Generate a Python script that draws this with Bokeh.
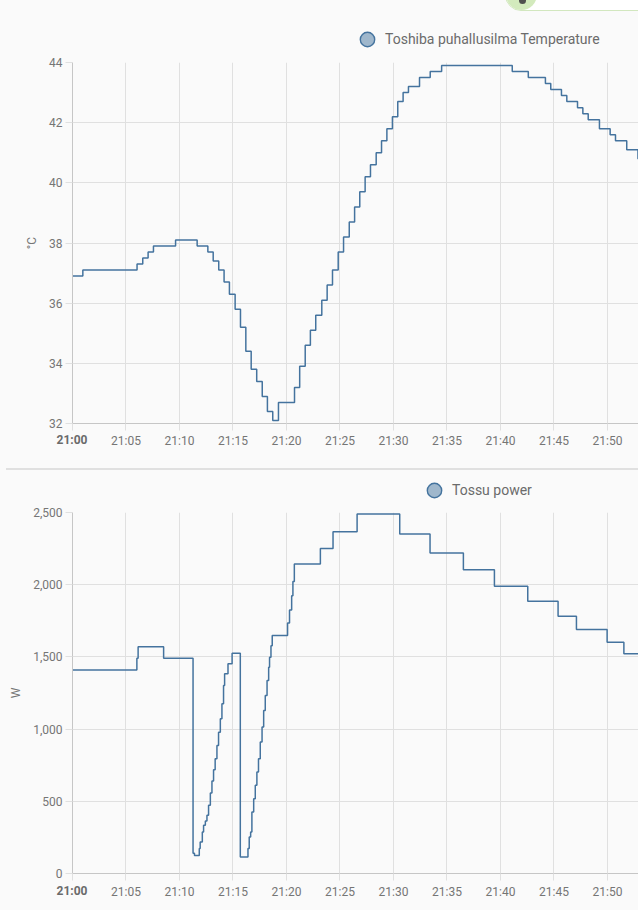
import pandas as pd
from bokeh.plotting import figure
from bokeh.models import (Range1d, FixedTicker, NumeralTickFormatter, Legend,
                          LegendItem, Div, ColumnDataSource)
from bokeh.layouts import column
from bokeh.embed import file_html
from bokeh.resources import INLINE

DAY = "2024-01-01 "

# ---------------- data ----------------
temp_name = "Toshiba puhallusilma Temperature"
temp_unit = "°C"
temp_times = ["21:00:00", "21:00:58", "21:06:02", "21:06:34", "21:07:04", "21:07:34",
              "21:09:38", "21:11:39", "21:12:39", "21:13:09", "21:13:40", "21:14:10",
              "21:14:40", "21:15:12", "21:15:42", "21:16:12", "21:16:42", "21:17:13",
              "21:17:44", "21:18:13", "21:18:43", "21:19:15", "21:20:45", "21:21:14",
              "21:21:45", "21:22:14", "21:22:44", "21:23:18", "21:23:48", "21:24:18",
              "21:24:50", "21:25:20", "21:25:52", "21:26:22", "21:26:51", "21:27:21",
              "21:27:51", "21:28:23", "21:28:53", "21:29:23", "21:29:54", "21:30:24",
              "21:30:54", "21:31:24", "21:32:26", "21:33:26", "21:34:30", "21:41:06",
              "21:42:36", "21:44:12", "21:44:42", "21:45:42", "21:46:12", "21:47:12",
              "21:47:42", "21:48:12", "21:49:15", "21:50:15", "21:50:45", "21:51:48",
              "21:52:51", "21:53:00"]
temp_values = [36.9, 37.1, 37.3, 37.5, 37.7, 37.9,
               38.1, 37.9, 37.7, 37.4, 37.1, 36.7,
               36.3, 35.8, 35.2, 34.4, 33.8, 33.4,
               32.9, 32.4, 32.1, 32.7, 33.2, 33.9,
               34.6, 35.1, 35.6, 36.1, 36.6, 37.1,
               37.7, 38.2, 38.7, 39.2, 39.7, 40.2,
               40.6, 41.0, 41.4, 41.8, 42.2, 42.7,
               43.0, 43.2, 43.5, 43.7, 43.9, 43.7,
               43.5, 43.3, 43.1, 42.9, 42.7, 42.5,
               42.3, 42.1, 41.8, 41.6, 41.4, 41.1,
               40.8, 40.8]
temp_ticks = [32, 34, 36, 38, 40, 42, 44]

power_name = "Tossu power"
power_unit = "W"
power_times = ["21:00:00", "21:06:01", "21:06:08", "21:08:31", "21:11:16", "21:11:24",
               "21:11:51", "21:11:56", "21:12:08", "21:12:15", "21:12:25", "21:12:34",
               "21:12:43", "21:12:53", "21:13:02", "21:13:11", "21:13:20", "21:13:30",
               "21:13:39", "21:13:49", "21:13:58", "21:14:07", "21:14:13", "21:14:32",
               "21:14:55", "21:15:41", "21:16:24", "21:16:31", "21:16:39", "21:16:46",
               "21:16:56", "21:17:05", "21:17:14", "21:17:23", "21:17:33", "21:17:43",
               "21:17:52", "21:18:01", "21:18:11", "21:18:20", "21:18:25", "21:18:33",
               "21:18:40", "21:20:06", "21:20:17", "21:20:29", "21:20:36", "21:20:44",
               "21:23:10", "21:24:21", "21:26:36", "21:30:35", "21:33:25", "21:36:32",
               "21:39:26", "21:42:33", "21:45:23", "21:47:06", "21:49:58", "21:51:32",
               "21:53:00"]
power_values = [1410, 1490, 1570, 1490, 140, 124,
                173, 219, 288, 334, 364, 403,
                472, 557, 640, 719, 795, 887,
                979, 1071, 1175, 1302, 1383, 1452,
                1525, 115, 173, 253, 288, 426,
                518, 611, 703, 795, 910, 1014,
                1129, 1233, 1336, 1429, 1498, 1578,
                1648, 1735, 1825, 1924, 2023, 2143,
                2251, 2367, 2489, 2351, 2219, 2104,
                1989, 1885, 1781, 1689, 1601, 1521,
                1521]
power_ticks = [0, 500, 1000, 1500, 2000, 2500]

x_tick_labels = ["21:00", "21:05", "21:10", "21:15", "21:20", "21:25",
                 "21:30", "21:35", "21:40", "21:45", "21:50"]
x_start = "21:00:00"
x_end = "21:52:54"

# ---------------- style ----------------
LINE = "#44739e"
BG = "#fafafa"
GRID = "#e0e0e0"
AXIS = "#c6c6c6"
TICKC = "#757575"
LEGC = "#6b6b6b"
FONT = "Roboto"
EPOCH = pd.Timestamp("1970-01-01")


def to_ms(t):
    return (pd.Timestamp(DAY + t) - EPOCH).total_seconds() * 1000.0


def style_axis(ax):
    ax.axis_line_color = AXIS
    ax.major_tick_line_color = GRID
    ax.major_tick_out = 7
    ax.major_tick_in = 0
    ax.minor_tick_line_color = None
    ax.major_label_text_font = FONT
    ax.major_label_text_font_size = "12px"
    ax.major_label_text_color = TICKC
    ax.axis_label_text_font = FONT
    ax.axis_label_text_font_size = "12px"
    ax.axis_label_text_font_style = "normal"
    ax.axis_label_text_color = TICKC


def make_source(times, values):
    return ColumnDataSource(dict(x=pd.to_datetime([DAY + t for t in times]), y=values))


def make_legend_row(src, name, height, loc):
    lp = figure(width=638, height=height, output_backend="svg",
                toolbar_location=None, min_border=0,
                x_axis_location=None, y_axis_location=None,
                background_fill_color=BG, border_fill_color=BG,
                outline_line_color=None)
    lp.grid.grid_line_color = None
    sc = lp.scatter("x", "y", source=src, marker="circle", size=14,
                    fill_color=LINE, fill_alpha=0.5, line_color=LINE,
                    line_width=1.4, visible=False)
    leg = Legend(items=[LegendItem(label=name, renderers=[sc])],
                 location=loc, orientation="horizontal",
                 glyph_width=36, glyph_height=36, label_standoff=-6,
                 padding=0, margin=0, spacing=0,
                 background_fill_alpha=0, border_line_alpha=0,
                 inactive_fill_alpha=0,
                 label_text_font=FONT, label_text_font_size="14px",
                 label_text_color=LEGC)
    lp.add_layout(leg)
    return lp


def make_chart(src, unit, yticks, y_end, yfmt, border_bottom, height, x_standoff):
    p = figure(width=638, height=height, x_axis_type="datetime",
               output_backend="svg", toolbar_location=None,
               min_border_left=72, min_border_right=0,
               min_border_top=8, min_border_bottom=border_bottom,
               background_fill_color=BG, border_fill_color=BG,
               outline_line_color=None,
               x_range=Range1d(to_ms(x_start), to_ms(x_end)),
               y_range=Range1d(yticks[0], y_end))
    p.step("x", "y", source=src, mode="after", line_color=LINE, line_width=1.5)

    tick_ms = [to_ms(t + ":00") for t in x_tick_labels]
    overrides = {v: lab for v, lab in zip(tick_ms, x_tick_labels)}
    overrides[tick_ms[0]] = ""   # drawn in bold separately (below)
    xa = p.xaxis[0]
    xa.ticker = FixedTicker(ticks=tick_ms)
    xa.major_label_overrides = overrides
    ya = p.yaxis[0]
    ya.ticker = FixedTicker(ticks=yticks)
    if yfmt:
        ya.formatter = NumeralTickFormatter(format=yfmt)
    ya.axis_label = unit
    style_axis(xa)
    style_axis(ya)
    ya.major_label_standoff = 3
    ya.axis_label_standoff = 7
    xa.major_label_standoff = x_standoff
    p.xgrid.grid_line_color = GRID
    p.ygrid.grid_line_color = GRID
    return p


temp_src = make_source(temp_times, temp_values)
power_src = make_source(power_times, power_values)

leg1 = make_legend_row(temp_src, temp_name, 54, (277, -3))
p1 = make_chart(temp_src, temp_unit, temp_ticks, 44, None, 45, 414, 3)
divider = Div(text="", width=632, height=2, margin=(0, 0, 0, 6),
              styles={"background-color": "#e0e0e0"})
leg2 = make_legend_row(power_src, power_name, 34, (344, -4))
p2 = make_chart(power_src, power_unit, power_ticks, 2500, "0,0", 37, 406, 4)

layout = column(leg1, p1, divider, leg2, p2, spacing=0)

html = file_html(layout, INLINE)
extra = "<style>html,body{background:#fafafa;overflow:hidden;}</style>"
bold_style = ("position:absolute;left:52px;width:40px;text-align:center;"
              "font:bold 12px Roboto;line-height:14px;color:#6a6a6a;")
overlay = ('<div style="position:absolute;left:505px;top:-21px;width:230px;height:30px;'
           'border:1.5px solid #d2e7bf;border-radius:16px;background:#ffffff;"></div>'
           '<div style="position:absolute;left:506px;top:-21px;width:31px;height:31px;'
           'border-radius:50%;background:#d3eabd;"></div>'
           '<div style="position:absolute;left:519px;top:-3px;width:7px;height:7px;'
           'border-radius:50%;background:#4f4f4f;"></div>'
           f'<div style="{bold_style}top:433px;">{x_tick_labels[0]}</div>'
           f'<div style="{bold_style}top:884px;">{x_tick_labels[0]}</div>')
html = html.replace("</head>", extra + "</head>", 1)
html = html.replace("</body>", overlay + "</body>", 1)
open("out.html", "w").write(html)
